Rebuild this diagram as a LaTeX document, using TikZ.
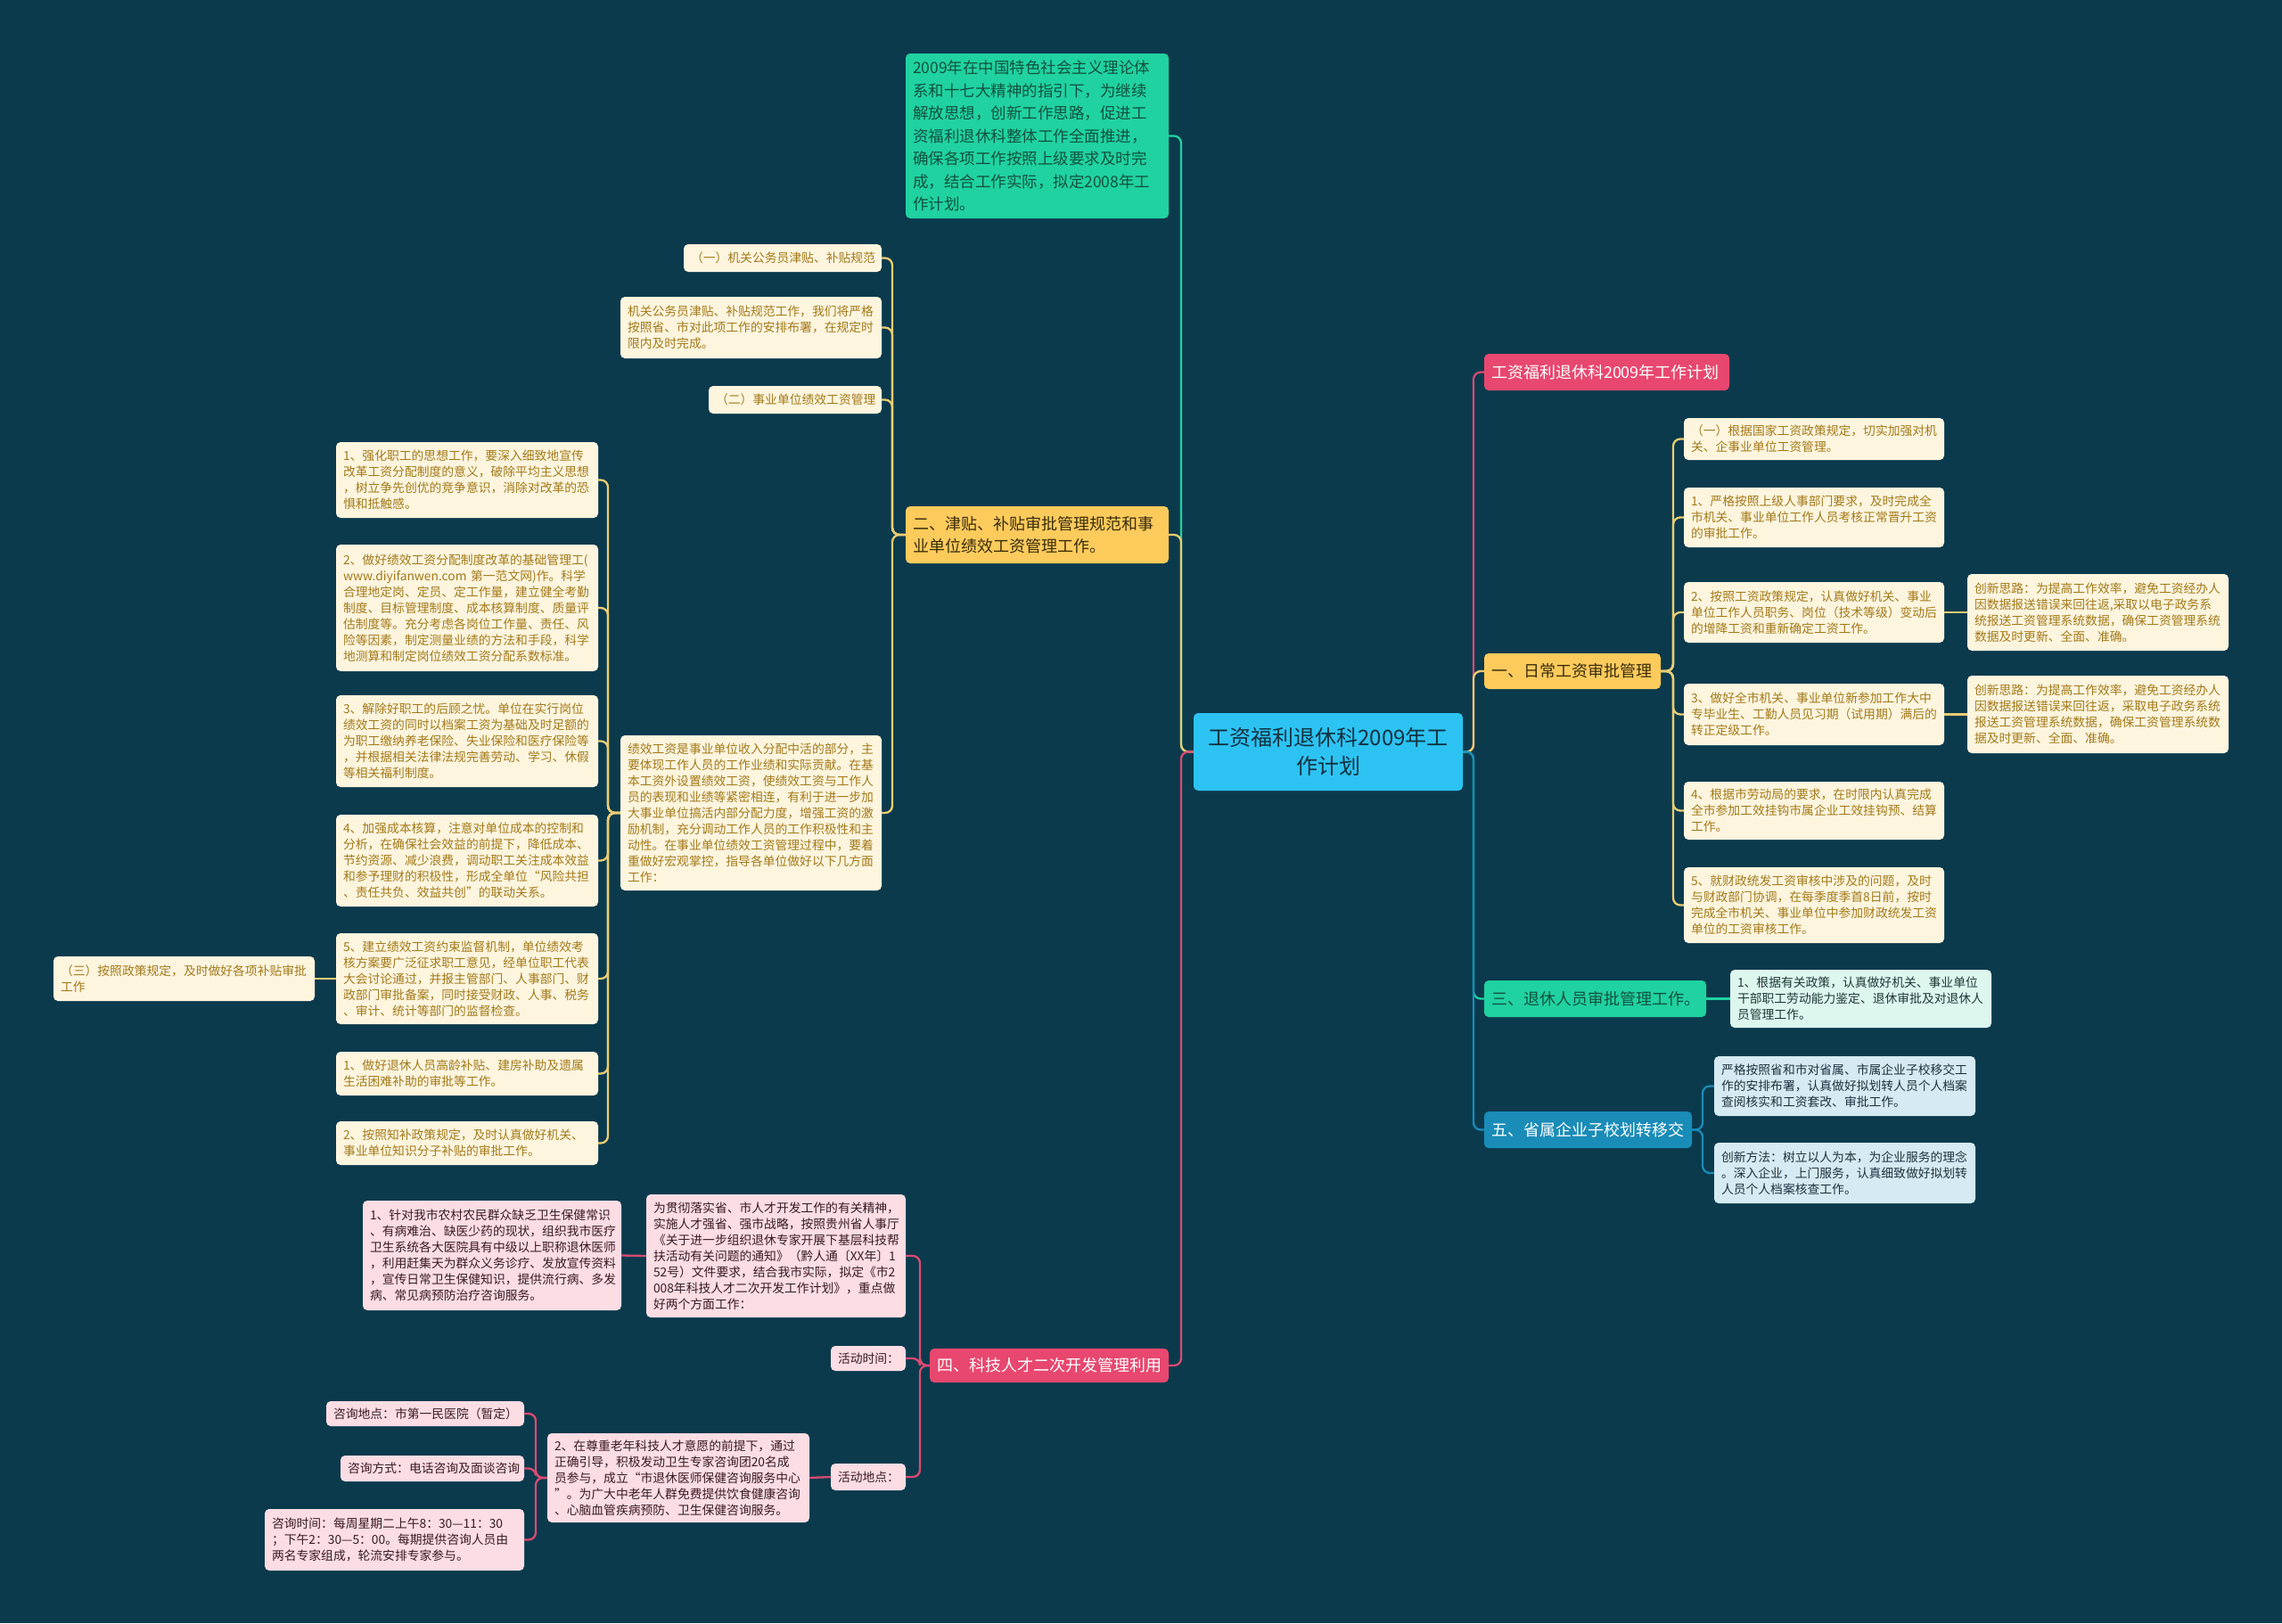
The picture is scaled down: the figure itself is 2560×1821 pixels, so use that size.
\documentclass[tikz,border=0pt]{standalone}
\usepackage{fontspec}
\setmainfont{Noto Sans CJK SC}
\definecolor{bgc}{HTML}{0B3A4D}
\definecolor{rootc}{HTML}{2CC3F2}
\definecolor{roott}{HTML}{123040}
\definecolor{pinkc}{HTML}{E8476F}
\definecolor{pinkl}{HTML}{DA4A72}
\definecolor{pinkbg}{HTML}{FCDDE4}
\definecolor{pinkt}{HTML}{3A1A22}
\definecolor{yelc}{HTML}{FDCB5C}
\definecolor{yell}{HTML}{EBCD72}
\definecolor{yelt}{HTML}{3A2C0A}
\definecolor{creambg}{HTML}{FEF5DF}
\definecolor{creamt}{HTML}{A37A1A}
\definecolor{grnc}{HTML}{20D2A0}
\definecolor{grnt}{HTML}{11513F}
\definecolor{mintbg}{HTML}{DDF6EE}
\definecolor{mintt}{HTML}{1E3A36}
\definecolor{bluc}{HTML}{1A8CB8}
\definecolor{blubg}{HTML}{D5EAF2}
\definecolor{blut}{HTML}{1E3240}
\newcommand\fsS{\fontsize{13.8pt}{18pt}\selectfont}
\newcommand\fsB{\fontsize{18pt}{25pt}\selectfont}
\newcommand\fsI{\fontsize{17.5pt}{25.5pt}\selectfont}
\newcommand\fsR{\fontsize{24pt}{32pt}\selectfont}
\newcommand\mmbox[7]{%
 \pgfmathsetmacro\mmw{#5-#3}%
 \pgfmathsetmacro\mmh{#6-#4}%
 \pgfmathsetmacro\mmt{#5-#3-16}%
 \pgfmathsetmacro\mmx{(#3+#5)/2}%
 \pgfmathsetmacro\mmy{(#4+#6)/2}%
 \node[#2, minimum width=\mmw pt, minimum height=\mmh pt, text width=\mmt pt] (#1) at (\mmx,\mmy) {#7};}
\tikzset{
 mmb/.style={rounded corners=5pt, inner xsep=8pt, inner ysep=0pt, align=left},
 cream/.style={mmb, fill=creambg, text=creamt, font=\fsS},
 pinkch/.style={mmb, fill=pinkbg, text=pinkt, font=\fsS},
 mint/.style={mmb, fill=mintbg, text=mintt, font=\fsS},
 bluech/.style={mmb, fill=blubg, text=blut, font=\fsS},
 brY/.style={mmb, fill=yelc, text=yelt, font=\fsB},
 brP/.style={mmb, fill=pinkc, text=white, font=\fsB},
 brG/.style={mmb, fill=grnc, text=grnt, font=\fsB},
 brB/.style={mmb, fill=bluc, text=white, font=\fsB},
 rootbox/.style={mmb, fill=rootc, text=roott, font=\fsR, align=center},
 introbox/.style={mmb, fill=grnc, text=grnt, font=\fsI},
 ln/.style={line width=2.3pt, rounded corners=8pt},
 lnY/.style={ln, draw=yell},
 lnP/.style={ln, draw=pinkl},
 lnG/.style={ln, draw=grnc},
 lnB/.style={ln, draw=bluc},
}
\begin{document}
\begin{tikzpicture}[x=1pt,y=-1pt]
\fill[bgc] (0,0) rectangle (2560,1821);
\useasboundingbox (0,0) rectangle (2560,1821);
\coordinate (sL) at (1325,0);
\coordinate (sR) at (1653,0);
\coordinate (sL2) at (1001,0);
\coordinate (sJ) at (682,0);
\coordinate (sR1) at (1877,0);
\coordinate (sR5) at (1910,0);
\coordinate (sB4) at (1032,0);
\coordinate (sZ) at (601,0);

% root
\mmbox{root}{rootbox}{1339}{800}{1641}{887}{工资福利退休科2009年工\\作计划}

% left side
\mmbox{intro}{introbox}{1016}{60}{1311}{245}{2009年在中国特色社会主义理论体\\系和十七大精神的指引下，为继续\\解放思想，创新工作思路，促进工\\资福利退休科整体工作全面推进，\\确保各项工作按照上级要求及时完\\成，结合工作实际，拟定2008年工\\作计划。}
\mmbox{L2}{brY}{1016}{568}{1311}{632}{二、津贴、补贴审批管理规范和事\\业单位绩效工资管理工作。}
\mmbox{k1}{cream}{767}{274}{989}{305}{（一）机关公务员津贴、补贴规范}
\mmbox{k2}{cream}{696}{333}{989}{402}{机关公务员津贴、补贴规范工作，我们将严格\\按照省、市对此项工作的安排布署，在规定时\\限内及时完成。}
\mmbox{k3}{cream}{795}{433}{989}{464}{（二）事业单位绩效工资管理}
\mmbox{k4}{cream}{696}{825}{989}{999}{绩效工资是事业单位收入分配中活的部分，主\\要体现工作人员的工作业绩和实际贡献。在基\\本工资外设置绩效工资，使绩效工资与工作人\\员的表现和业绩等紧密相连，有利于进一步加\\大事业单位搞活内部分配力度，增强工资的激\\励机制，充分调动工作人员的工作积极性和主\\动性。在事业单位绩效工资管理过程中，要着\\重做好宏观掌控，指导各单位做好以下几方面\\工作：}
\mmbox{j1}{cream}{377}{496}{671}{581}{1、强化职工的思想工作，要深入细致地宣传\\改革工资分配制度的意义，破除平均主义思想\\，树立争先创优的竞争意识，消除对改革的恐\\惧和抵触感。}
\mmbox{j2}{cream}{377}{611}{671}{753}{2、做好绩效工资分配制度改革的基础管理工(\\www.diyifanwen.com 第一范文网)作。科学\\合理地定岗、定员、定工作量，建立健全考勤\\制度、目标管理制度、成本核算制度、质量评\\估制度等。充分考虑各岗位工作量、责任、风\\险等因素，制定测量业绩的方法和手段，科学\\地测算和制定岗位绩效工资分配系数标准。}
\mmbox{j3}{cream}{377}{780}{671}{883}{3、解除好职工的后顾之忧。单位在实行岗位\\绩效工资的同时以档案工资为基础及时足额的\\为职工缴纳养老保险、失业保险和医疗保险等\\，并根据相关法律法规完善劳动、学习、休假\\等相关福利制度。}
\mmbox{j4}{cream}{377}{914}{671}{1017}{4、加强成本核算，注意对单位成本的控制和\\分析，在确保社会效益的前提下，降低成本、\\节约资源、减少浪费，调动职工关注成本效益\\和参予理财的积极性，形成全单位“风险共担\\、责任共负、效益共创”的联动关系。}
\mmbox{j5}{cream}{377}{1047}{671}{1149}{5、建立绩效工资约束监督机制，单位绩效考\\核方案要广泛征求职工意见，经单位职工代表\\大会讨论通过，并报主管部门、人事部门、财\\政部门审批备案，同时接受财政、人事、税务\\、审计、统计等部门的监督检查。}
\mmbox{j6}{cream}{377}{1180}{671}{1229}{1、做好退休人员高龄补贴、建房补助及遗属\\生活困难补助的审批等工作。}
\mmbox{j7}{cream}{377}{1258}{671}{1307}{2、按照知补政策规定，及时认真做好机关、\\事业单位知识分子补贴的审批工作。}
\mmbox{s3}{cream}{60}{1073}{353}{1123}{（三）按照政策规定，及时做好各项补贴审批\\工作}

% bottom left (pink)
\mmbox{B4}{brP}{1043}{1513}{1311}{1551}{四、科技人才二次开发管理利用}
\mmbox{p1}{pinkch}{725}{1340}{1016}{1478}{为贯彻落实省、市人才开发工作的有关精神，\\实施人才强省、强市战略，按照贵州省人事厅\\《关于进一步组织退休专家开展下基层科技帮\\扶活动有关问题的通知》（黔人通〔XX年〕1\\52号）文件要求，结合我市实际，拟定《市2\\008年科技人才二次开发工作计划》，重点做\\好两个方面工作：}
\mmbox{p2}{pinkch}{932}{1510}{1016}{1538}{活动时间：}
\mmbox{p3}{pinkch}{932}{1642}{1016}{1672}{活动地点：}
\mmbox{p4}{pinkch}{407}{1347}{697}{1470}{1、针对我市农村农民群众缺乏卫生保健常识\\、有病难治、缺医少药的现状，组织我市医疗\\卫生系统各大医院具有中级以上职称退休医师\\，利用赶集天为群众义务诊疗、发放宣传资料\\，宣传日常卫生保健知识，提供流行病、多发\\病、常见病预防治疗咨询服务。}
\mmbox{p5}{pinkch}{614}{1608}{908}{1708}{2、在尊重老年科技人才意愿的前提下，通过\\正确引导，积极发动卫生专家咨询团20名成\\员参与，成立“市退休医师保健咨询服务中心\\”。为广大中老年人群免费提供饮食健康咨询\\、心脑血管疾病预防、卫生保健咨询服务。}
\mmbox{p6}{pinkch}{366}{1572}{588}{1600}{咨询地点：市第一民医院（暂定）}
\mmbox{p7}{pinkch}{382}{1633}{588}{1662}{咨询方式：电话咨询及面谈咨询}
\mmbox{p8}{pinkch}{297}{1693}{588}{1762}{咨询时间：每周星期二上午8：30—11：30\\；下午2：30—5：00。每期提供咨询人员由\\两名专家组成，轮流安排专家参与。}

% right side
\mmbox{R0}{brP}{1665}{397}{1940}{438}{工资福利退休科2009年工作计划}
\mmbox{R1}{brY}{1665}{733}{1863}{773}{一、日常工资审批管理}
\mmbox{c1}{cream}{1889}{469}{2181}{516}{（一）根据国家工资政策规定，切实加强对机\\关、企事业单位工资管理。}
\mmbox{c2}{cream}{1889}{547}{2181}{614}{1、严格按照上级人事部门要求，及时完成全\\市机关、事业单位工作人员考核正常晋升工资\\的审批工作。}
\mmbox{c3}{cream}{1889}{653}{2181}{721}{2、按照工资政策规定，认真做好机关、事业\\单位工作人员职务、岗位（技术等级）变动后\\的增降工资和重新确定工资工作。}
\mmbox{c4}{cream}{1889}{767}{2181}{836}{3、做好全市机关、事业单位新参加工作大中\\专毕业生、工勤人员见习期（试用期）满后的\\转正定级工作。}
\mmbox{c5}{cream}{1889}{877}{2181}{942}{4、根据市劳动局的要求，在时限内认真完成\\全市参加工效挂钩市属企业工效挂钩预、结算\\工作。}
\mmbox{c6}{cream}{1889}{973}{2181}{1058}{5、就财政统发工资审核中涉及的问题，及时\\与财政部门协调，在每季度季首8日前，按时\\完成全市机关、事业单位中参加财政统发工资\\单位的工资审核工作。}
\mmbox{c3a}{cream}{2207}{644}{2500}{730}{创新思路：为提高工作效率，避免工资经办人\\因数据报送错误来回往返,采取以电子政务系\\统报送工资管理系统数据，确保工资管理系统\\数据及时更新、全面、准确。}
\mmbox{c4a}{cream}{2207}{758}{2500}{845}{创新思路：为提高工作效率，避免工资经办人\\因数据报送错误来回往返，采取电子政务系统\\报送工资管理系统数据，确保工资管理系统数\\据及时更新、全面、准确。}
\mmbox{R3}{brG}{1665}{1100}{1914}{1141}{三、退休人员审批管理工作。}
\mmbox{R3a}{mint}{1941}{1088}{2234}{1153}{1、根据有关政策，认真做好机关、事业单位\\干部职工劳动能力鉴定、退休审批及对退休人\\员管理工作。}
\mmbox{R5}{brB}{1665}{1247}{1898}{1288}{五、省属企业子校划转移交}
\mmbox{R5a}{bluech}{1923}{1185}{2216}{1252}{严格按照省和市对省属、市属企业子校移交工\\作的安排布署，认真做好拟划转人员个人档案\\查阅核实和工资套改、审批工作。}
\mmbox{R5b}{bluech}{1923}{1282}{2216}{1350}{创新方法：树立以人为本，为企业服务的理念\\。深入企业，上门服务，认真细致做好拟划转\\人员个人档案核查工作。}

% connectors: root to main branches
\draw[lnG] (root.west) -- (root.west -| sL) |- (intro.east);
\draw[lnY] (root.west) -- (root.west -| sL) |- (L2.east);
\draw[lnP] (root.west) -- (root.west -| sL) |- (B4.east);
\draw[lnP] (root.east) -- (root.east -| sR) |- (R0.west);
\draw[lnY] (root.east) -- (root.east -| sR) |- (R1.west);
\draw[lnG] (root.east) -- (root.east -| sR) |- (R3.west);
\draw[lnB] (root.east) -- (root.east -| sR) |- (R5.west);

% left subtree
\foreach \n in {k1,k2,k3,k4} \draw[lnY] (L2.west) -- (L2.west -| sL2) |- (\n.east);
\foreach \n in {j1,j2,j3,j4,j5,j6,j7} \draw[lnY] (k4.west) -- (k4.west -| sJ) |- (\n.east);
\draw[lnY] (j5.west) -- (s3.east);

% bottom subtree
\foreach \n in {p1,p2,p3} \draw[lnP] (B4.west) -- (B4.west -| sB4) |- (\n.east);
\draw[lnP] (p1.west) -- (p4.east);
\draw[lnP] (p3.west) -- (p5.east);
\foreach \n in {p6,p7,p8} \draw[lnP] (p5.west) -- (p5.west -| sZ) |- (\n.east);

% right subtrees
\foreach \n in {c1,c2,c3,c4,c5,c6} \draw[lnY] (R1.east) -- (R1.east -| sR1) |- (\n.west);
\draw[lnY] (c3.east) -- (c3a.west);
\draw[lnY] (c4.east) -- (c4a.west);
\draw[lnG] (R3.east) -- (R3a.west);
\foreach \n in {R5a,R5b} \draw[lnB] (R5.east) -- (R5.east -| sR5) |- (\n.west);
\end{tikzpicture}
\end{document}
